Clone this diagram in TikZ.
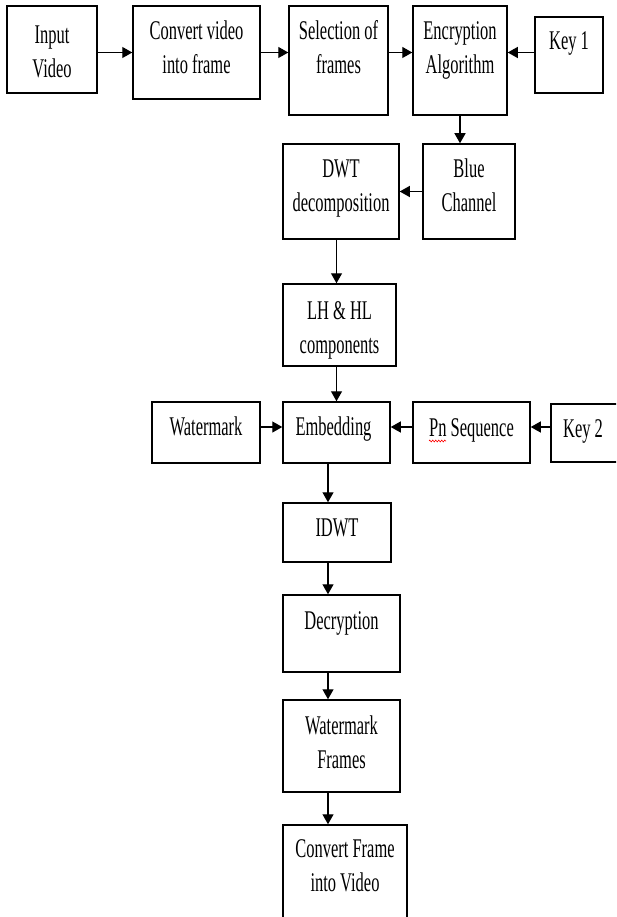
\documentclass[tikz,border=0pt]{standalone}
\usepackage{fontspec}
\setmainfont[FakeStretch=0.61]{Liberation Serif}
\usetikzlibrary{arrows.meta,positioning,decorations.pathmorphing}

\begin{document}
\begin{tikzpicture}[x=1pt, y=-1pt,
    block/.style={draw, line width=1.5pt, rectangle, inner sep=0pt},
    lbl/.style={inner sep=0pt, align=center, font=\fontsize{27}{34}\selectfont},
    link/.style={-{Triangle[length=10pt,width=11pt]}, line width=1.3pt}]
    \useasboundingbox (0,0) rectangle (616,917);
    \clip (0,0) rectangle (616,917);

    % blocks
    \node[block, minimum width=90pt, minimum height=87pt] (inp) at (52,49.5) {};
    \node[block, minimum width=127pt, minimum height=93pt] (conv) at (196.5,52.5) {};
    \node[block, minimum width=99pt, minimum height=109pt] (sel) at (338.5,60.5) {};
    \node[block, minimum width=94pt, minimum height=109pt] (enc) at (460,60.5) {};
    \node[block, minimum width=68pt, minimum height=76pt] (key1) at (569,55) {};
    \node[block, minimum width=92pt, minimum height=95pt] (blue) at (469,191.5) {};
    \node[block, minimum width=116pt, minimum height=95pt] (dwt) at (341,191.5) {};
    \node[block, minimum width=113pt, minimum height=82pt] (lh) at (339.5,325) {};
    \node[block, minimum width=108pt, minimum height=61pt] (wm) at (206,432.5) {};
    \node[block, minimum width=107pt, minimum height=61pt] (emb) at (336.5,432.5) {};
    \node[block, minimum width=117pt, minimum height=61pt] (pn) at (471.5,432.5) {};
    \node[block, minimum width=80pt, minimum height=58pt] (key2) at (591,433) {};
    \node[block, minimum width=108pt, minimum height=59pt] (idwt) at (337,532.5) {};
    \node[block, minimum width=117pt, minimum height=77pt] (dec) at (341.5,633.5) {};
    \node[block, minimum width=117pt, minimum height=92pt] (wmf) at (341.5,746) {};
    \node[block, minimum width=124pt, minimum height=105pt] (cfv) at (345,877.5) {};

    % texts
    \node[lbl] (inp-t) at (52,52) {Input\\Video};
    \node[lbl] (conv-t) at (196.5,47.5) {Convert video\\into frame};
    \node[lbl] (sel-t) at (338.5,47.5) {Selection of\\frames};
    \node[lbl] (enc-t) at (460,50.5) {Encryption\\Algorithm};
    \node[lbl] (key1-t) at (569,43.5) {Key 1};
    \node[lbl] (blue-t) at (469,185) {Blue\\Channel};
    \node[lbl] (dwt-t) at (341,188.5) {DWT\\decomposition};
    \node[lbl] (lh-t) at (339.5,330) {LH \& HL\\components};
    \node[lbl] (wm-t) at (206,426.5) {Watermark};
    \node[lbl] (emb-t) at (333.5,429) {Embedding};
    \node[lbl] (pn-t) at (471.5,430) {Pn Sequence};
    \node[lbl] (key2-t) at (583,431) {Key 2};
    \node[lbl] (idwt-t) at (337,527.5) {IDWT};
    \node[lbl] (dec-t) at (341.5,623) {Decryption};
    \node[lbl] (wmf-t) at (341.5,742) {Watermark\\Frames};
    \node[lbl] (cfv-t) at (345,866) {Convert Frame\\into Video};

    % spell check mark under Pn
    \draw[red, line width=0.6pt, decorate, decoration={zigzag, amplitude=0.9pt, segment length=3pt}] (429,441) -- (446,441);

    \coordinate (row) at (0,427);
    \coordinate (spine) at (328,0);

    % arrows
    \draw[link] (inp.east |- conv.west) -- (conv.west);
    \draw[link] (conv.east) -- (conv.east -| sel.west);
    \draw[link] (sel.east |- conv.east) -- (enc.west |- conv.east);
    \draw[link] (key1.west |- conv.east) -- (enc.east |- conv.east);
    \draw[link] (enc.south) -- (enc.south |- blue.north);
    \draw[link] (blue.west) -- (dwt.east);
    \draw[link] (emb.north |- dwt.south) -- (emb.north |- lh.north);
    \draw[link] (lh.south -| emb.north) -- (emb.north);
    \draw[link] (wm.east |- row) -- (emb.west |- row);
    \draw[link] (pn.west |- row) -- (emb.east |- row);
    \draw[link] (key2.west |- row) -- (pn.east |- row);
    \draw[link] (emb.south -| spine) -- (idwt.north -| spine);
    \draw[link] (idwt.south -| spine) -- (dec.north -| spine);
    \draw[link] (dec.south -| spine) -- (wmf.north -| spine);
    \draw[link] (wmf.south -| spine) -- (cfv.north -| spine);
\end{tikzpicture}
\end{document}
